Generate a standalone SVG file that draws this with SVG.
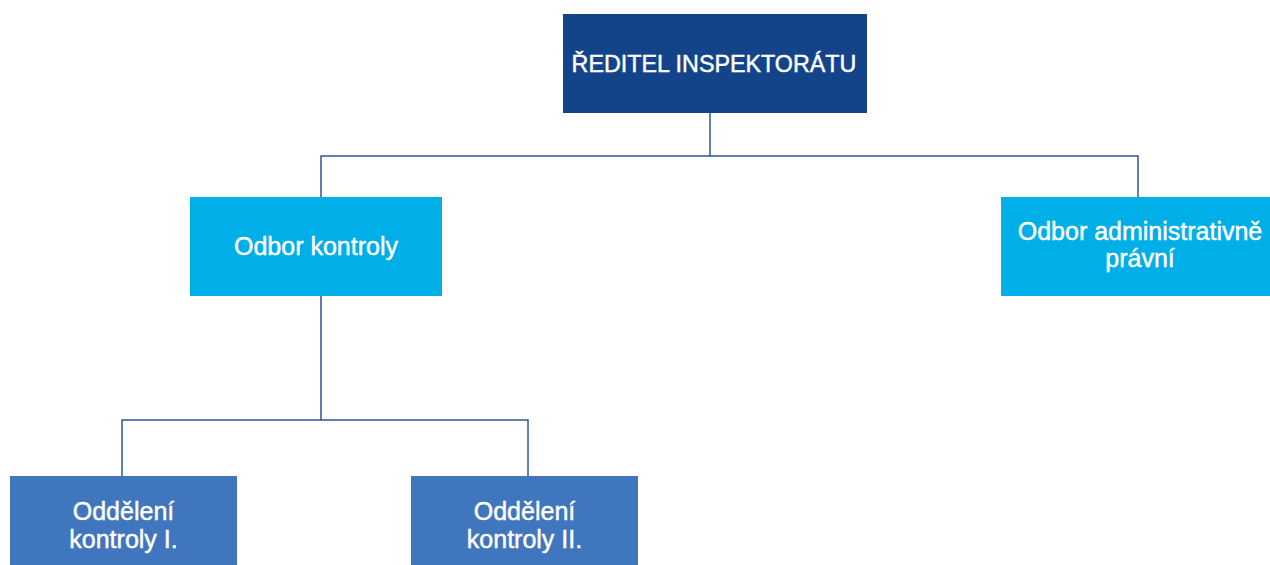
<svg xmlns="http://www.w3.org/2000/svg" width="1270" height="565" viewBox="0 0 1270 565">
<style>
text { font-family: "Liberation Sans", Arial, sans-serif; fill: #ffffff; stroke: #ffffff; stroke-width: 0.45; text-anchor: middle; }
.conn { fill: none; stroke: #2F5597; stroke-width: 1.5; }
.top { fill: #13448A; }
.mid { fill: #00AEE8; }
.low { fill: #3F76BD; }
</style>
<rect width="1270" height="565" fill="#ffffff"/>
<g id="connectors">
<polyline class="conn" points="710,113 710,156"/>
<polyline class="conn" points="321,197 321,156 1138,156 1138,197"/>
<polyline class="conn" points="321,296 321,420"/>
<polyline class="conn" points="122,476 122,420 528,420 528,476"/>
</g>
<g id="reditel">
<rect class="top" x="563" y="14" width="304" height="99"/>
<text x="714" y="72" font-size="23.3">ŘEDITEL INSPEKTORÁTU</text>
</g>
<g id="odbor-kontroly">
<rect class="mid" x="190" y="197" width="252" height="99"/>
<text x="316" y="255" font-size="25">Odbor kontroly</text>
</g>
<g id="odbor-admin">
<rect class="mid" x="1001" y="197" width="269" height="99"/>
<text x="1140" y="240" font-size="25">Odbor administrativně</text>
<text x="1140" y="267" font-size="25">právní</text>
</g>
<g id="oddeleni-1">
<rect class="low" x="10" y="476" width="227" height="89"/>
<text x="123.5" y="520" font-size="25">Oddělení</text>
<text x="123.5" y="548" font-size="25">kontroly I.</text>
</g>
<g id="oddeleni-2">
<rect class="low" x="411" y="476" width="227" height="89"/>
<text x="524.5" y="520" font-size="25">Oddělení</text>
<text x="524.5" y="548" font-size="25">kontroly II.</text>
</g>
</svg>
